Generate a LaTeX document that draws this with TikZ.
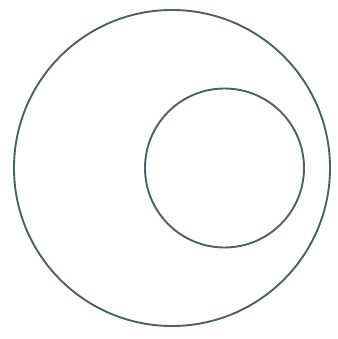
\documentclass[tikz,border=0pt]{standalone}
\usetikzlibrary{positioning}
\definecolor{lc}{RGB}{72,98,104}
\tikzset{ring/.style={draw=lc,circle,line width=1.9pt,inner sep=0pt}}
\begin{document}
\begin{tikzpicture}[x=1pt,y=1pt]
\useasboundingbox (0,0) rectangle (337,-339);
\node[ring,minimum size=316pt] (outer) at (172,-168) {};
\node[ring,minimum size=159pt] (inner) at (224.5,-168) {};
\end{tikzpicture}
\end{document}
